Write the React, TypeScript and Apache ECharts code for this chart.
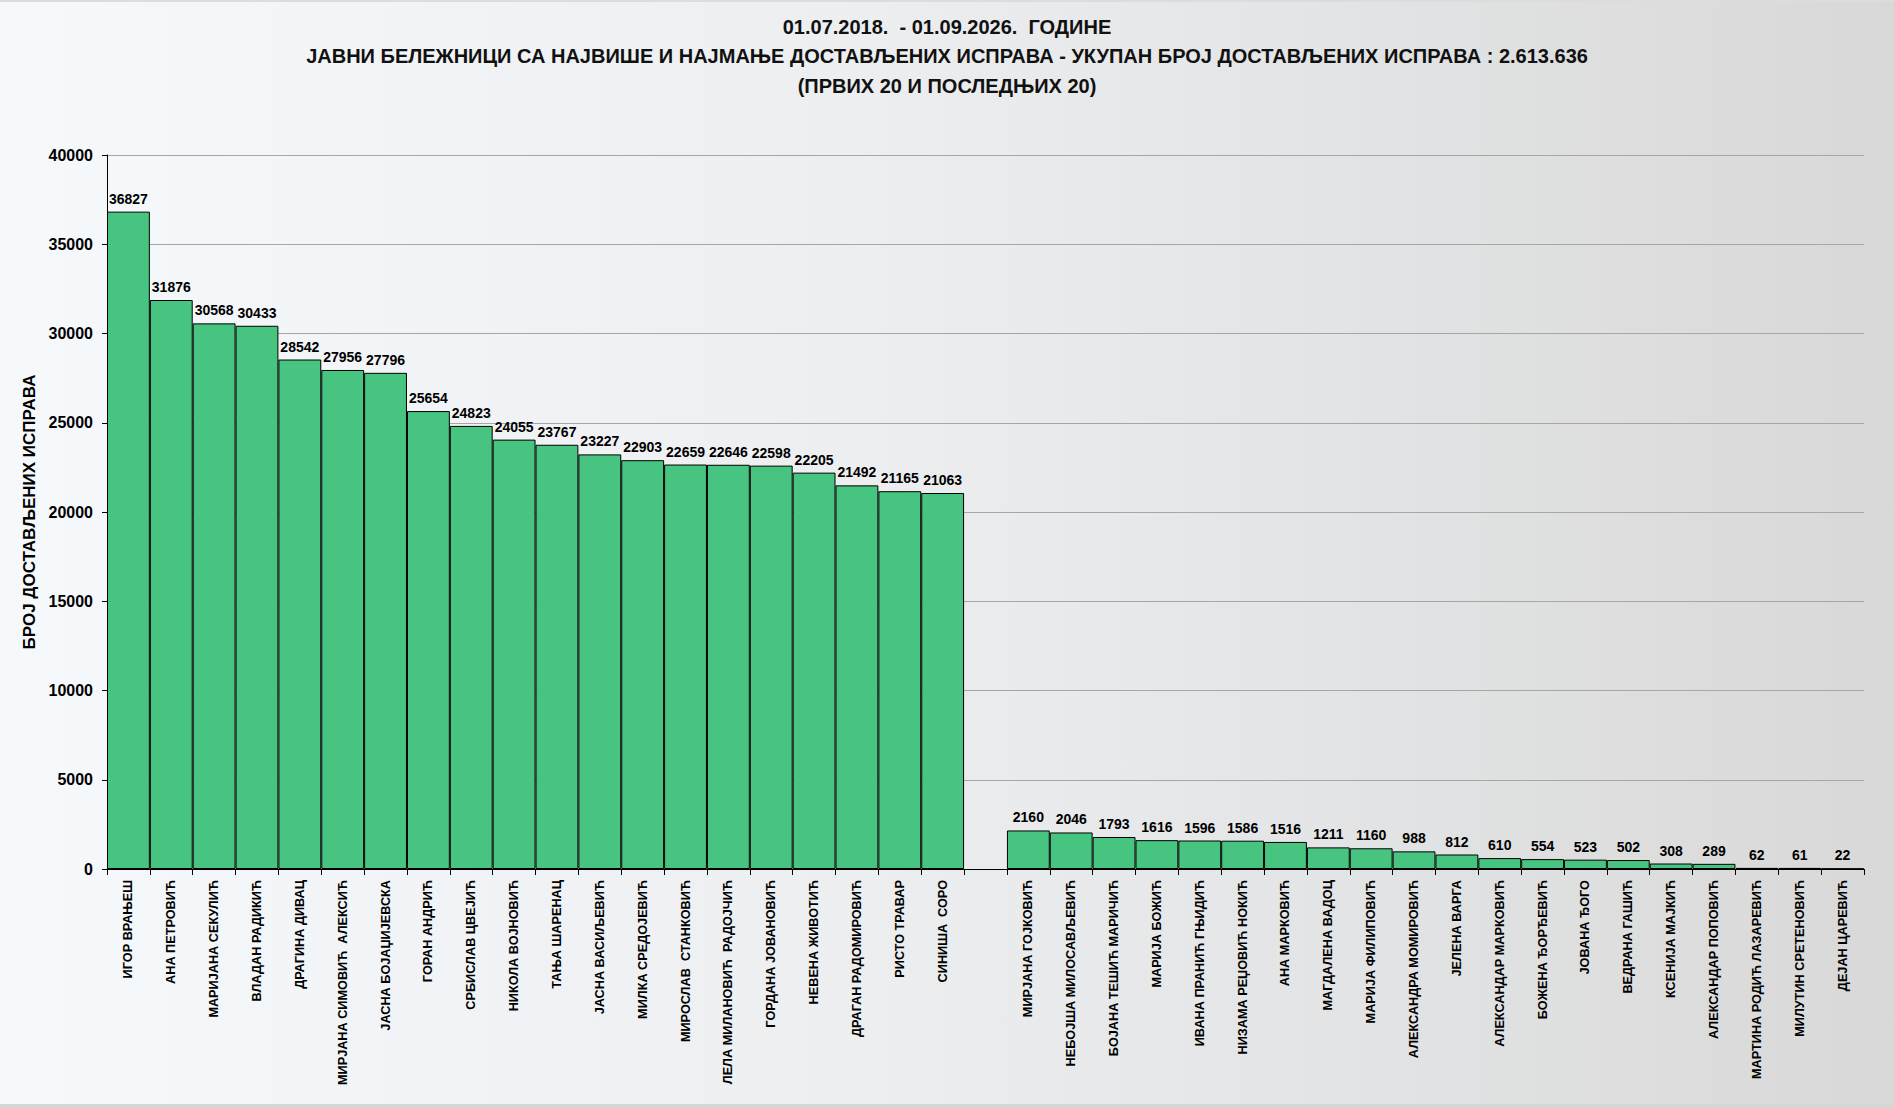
import React, { useEffect, useRef } from "react";
import * as echarts from "echarts";

const titleLines = [
  "01.07.2018.  - 01.09.2026.  ГОДИНЕ",
  "ЈАВНИ БЕЛЕЖНИЦИ СА НАЈВИШЕ И НАЈМАЊЕ ДОСТАВЉЕНИХ ИСПРАВА - УКУПАН БРОЈ ДОСТАВЉЕНИХ ИСПРАВА : 2.613.636",
  "(ПРВИХ 20 И ПОСЛЕДЊИХ 20)",
];

const yAxisName = "БРОЈ ДОСТАВЉЕНИХ ИСПРАВА";

const topNames = [
  "ИГОР ВРАЊЕШ",
  "АНА ПЕТРОВИЋ",
  "МАРИЈАНА СЕКУЛИЋ",
  "ВЛАДАН РАДИКИЋ",
  "ДРАГИНА ДИВАЦ",
  "МИРЈАНА СИМОВИЋ  АЛЕКСИЋ",
  "ЈАСНА БОЈАЏИЈЕВСКА",
  "ГОРАН АНДРИЋ",
  "СРБИСЛАВ ЦВЕЈИЋ",
  "НИКОЛА ВОЈНОВИЋ",
  "ТАЊА ШАРЕНАЦ",
  "ЈАСНА ВАСИЉЕВИЋ",
  "МИЛКА СРЕДОЈЕВИЋ",
  "МИРОСЛАВ  СТАНКОВИЋ",
  "ЛЕЛА МИЛАНОВИЋ  РАДОЈЧИЋ",
  "ГОРДАНА ЈОВАНОВИЋ",
  "НЕВЕНА ЖИВОТИЋ",
  "ДРАГАН РАДОМИРОВИЋ",
  "РИСТО ТРАВАР",
  "СИНИША  СОРО",
];
const topValues = [
  36827, 31876, 30568, 30433, 28542, 27956, 27796, 25654, 24823, 24055, 23767,
  23227, 22903, 22659, 22646, 22598, 22205, 21492, 21165, 21063,
];

const bottomNames = [
  "МИРЈАНА ГОЈКОВИЋ",
  "НЕБОЈША МИЛОСАВЉЕВИЋ",
  "БОЈАНА ТЕШИЋ МАРИЧИЋ",
  "МАРИЈА БОЖИЋ",
  "ИВАНА ПРАНИЋ ГЊИДИЋ",
  "НИЗАМА РЕЏОВИЋ НОКИЋ",
  "АНА МАРКОВИЋ",
  "МАГДАЛЕНА ВАДОЦ",
  "МАРИЈА ФИЛИПОВИЋ",
  "АЛЕКСАНДРА МОМИРОВИЋ",
  "ЈЕЛЕНА ВАРГА",
  "АЛЕКСАНДАР МАРКОВИЋ",
  "БОЖЕНА ЂОРЂЕВИЋ",
  "ЈОВАНА ЂОГО",
  "ВЕДРАНА ГАШИЋ",
  "КСЕНИЈА МАЈКИЋ",
  "АЛЕКСАНДАР ПОПОВИЋ",
  "МАРТИНА РОДИЋ ЛАЗАРЕВИЋ",
  "МИЛУТИН СРЕТЕНОВИЋ",
  "ДЕЈАН ЦАРЕВИЋ",
];
const bottomValues = [
  2160, 2046, 1793, 1616, 1596, 1586, 1516, 1211, 1160, 988, 812, 610, 554, 523,
  502, 308, 289, 62, 61, 22,
];

const yTicks = { min: 0, max: 40000, interval: 5000 };

const FONT = "'Liberation Sans', Arial, sans-serif";

export default function App() {
  const ref = useRef<HTMLDivElement>(null);

  useEffect(() => {
    document.body.style.margin = "0";
    if (!ref.current) return;
    const chart = echarts.init(ref.current, undefined, { renderer: "svg" });

    const categories = [...topNames, "", ...bottomNames];
    const values: (number | string)[] = [...topValues, "-", ...bottomValues];

    const titleTops = [10, 39, 69];

    chart.setOption({
      animation: false,
      backgroundColor: "transparent",
      title: titleLines.map((t, i) => ({
        text: t,
        left: "center",
        top: titleTops[i],
        textStyle: {
          fontFamily: FONT,
          fontWeight: "bold",
          fontSize: 20,
          color: "#111",
        },
      })),
      grid: { left: 107, right: 30, top: 153, bottom: 235, containLabel: false },
      xAxis: {
        type: "category",
        data: categories,
        boundaryGap: true,
        axisLine: { lineStyle: { color: "#000", width: 1 } },
        axisTick: {
          show: true,
          alignWithLabel: false,
          interval: 0,
          length: 6,
          lineStyle: { color: "#000" },
        },
        axisLabel: {
          interval: 0,
          rotate: 90,
          margin: 11,
          fontFamily: FONT,
          fontWeight: "bold",
          fontSize: 12.7,
          color: "#000",
        },
        splitLine: { show: false },
      },
      yAxis: {
        type: "value",
        min: yTicks.min,
        max: yTicks.max,
        interval: yTicks.interval,
        name: yAxisName,
        nameLocation: "middle",
        nameGap: 68,
        nameRotate: 90,
        nameTextStyle: {
          fontFamily: FONT,
          fontWeight: "bold",
          fontSize: 17,
          color: "#000",
        },
        axisLine: { show: true, lineStyle: { color: "#000", width: 1 } },
        axisTick: { show: true, length: 5, lineStyle: { color: "#000" } },
        axisLabel: {
          margin: 14,
          formatter: (v: number) => String(v),
          fontFamily: FONT,
          fontWeight: "bold",
          fontSize: 16,
          color: "#000",
        },
        splitLine: { show: true, lineStyle: { color: "#a6a6a6", width: 1 } },
      },
      series: [
        {
          type: "bar",
          data: values,
          barCategoryGap: "0%",
          itemStyle: {
            color: "#47c47f",
            borderColor: "#000",
            borderWidth: 1,
          },
          label: {
            show: true,
            position: "top",
            distance: 6,
            fontFamily: FONT,
            fontWeight: "bold",
            fontSize: 14,
            color: "#000",
          },
        },
      ],
    });

    return () => chart.dispose();
  }, []);

  return (
    <div
      style={{
        width: 1894,
        height: 1108,
        background: "linear-gradient(to right, #f6f9fc 0%, #eceef0 45%, #d8d8d8 100%)",
        boxSizing: "border-box",
        borderTop: "2px solid #dcdcdc",
        borderBottom: "4px solid #d6d6d6",
      }}
    >
      <div ref={ref} style={{ width: 1894, height: 1102 }} />
    </div>
  );
}
